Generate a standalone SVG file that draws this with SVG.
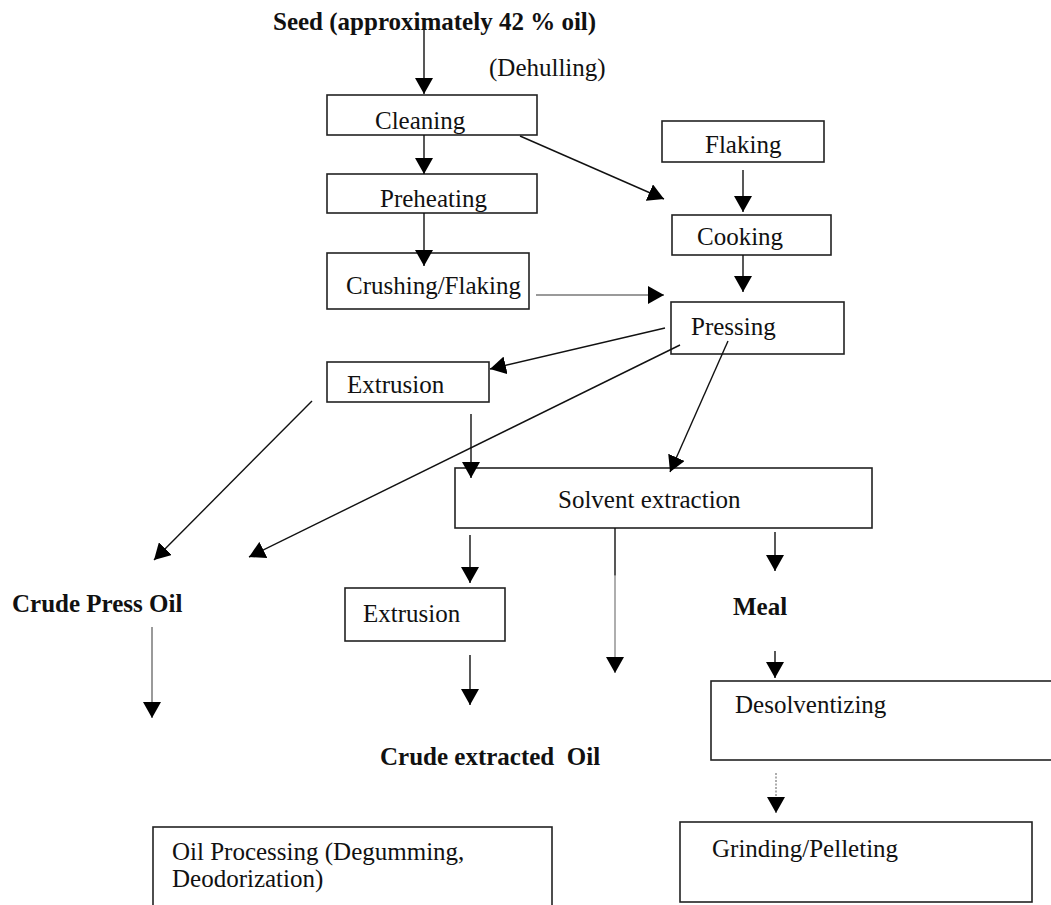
<svg xmlns="http://www.w3.org/2000/svg" width="1051" height="905" viewBox="0 0 1051 905">
<defs>
<marker id="ah" markerUnits="userSpaceOnUse" markerWidth="17" markerHeight="18" refX="16" refY="9" orient="auto" viewBox="0 0 17 18">
<path d="M0,0 L16,9 L0,18 z" fill="#000"/>
</marker>
</defs>
<style>
.box{fill:#fff;stroke:#222;stroke-width:1.6}
.t{font-family:"Liberation Serif","Times New Roman",serif;font-size:25px;fill:#111}
.b{font-weight:bold}
.c{stroke:#111;stroke-width:1.4;fill:none}
.g{stroke:#9a9a9a;stroke-width:2;fill:none}
.d{stroke:#777;stroke-width:1.2;stroke-dasharray:2 1.5;fill:none}
</style>
<rect width="1051" height="905" fill="#fff"/>

<g id="labels">
<text class="t b" x="273" y="30">Seed (approximately 42 % oil)</text>
<text class="t" x="489" y="76">(Dehulling)</text>
<text class="t b" x="12" y="612">Crude Press Oil</text>
<text class="t b" x="733" y="615">Meal</text>
<text class="t b" x="380" y="765" xml:space="preserve">Crude extracted  Oil</text>
</g>

<g id="cleaning"><rect class="box" x="327" y="95" width="210" height="40"/><text class="t" x="375" y="129">Cleaning</text></g>
<g id="preheating"><rect class="box" x="327" y="174" width="210" height="39"/><text class="t" x="380" y="207">Preheating</text></g>
<g id="crushing"><rect class="box" x="327" y="253" width="202" height="56"/><text class="t" x="346" y="294">Crushing/Flaking</text></g>
<g id="flaking"><rect class="box" x="662" y="121" width="162" height="41"/><text class="t" x="705" y="153">Flaking</text></g>
<g id="cooking"><rect class="box" x="672" y="215" width="159" height="40"/><text class="t" x="697" y="245">Cooking</text></g>
<g id="pressing"><rect class="box" x="671" y="302" width="173" height="52"/><text class="t" x="691" y="335">Pressing</text></g>
<g id="extrusion1"><rect class="box" x="327" y="362" width="162" height="40"/><text class="t" x="347" y="393">Extrusion</text></g>
<g id="solvent"><rect class="box" x="455" y="468" width="417" height="60"/><text class="t" x="558" y="508">Solvent extraction</text></g>
<g id="extrusion2"><rect class="box" x="345" y="588" width="160" height="53"/><text class="t" x="363" y="622">Extrusion</text></g>
<g id="desolventizing"><rect class="box" x="711" y="681" width="350" height="79"/><text class="t" x="735" y="713">Desolventizing</text></g>
<g id="grinding"><rect class="box" x="680" y="822" width="352" height="80"/><text class="t" x="712" y="857">Grinding/Pelleting</text></g>
<g id="oilprocessing"><rect class="box" x="153" y="827" width="399" height="90"/><text class="t" x="172" y="860">Oil Processing (Degumming,</text><text class="t" x="172" y="887">Deodorization)</text></g>

<g id="connectors">
<line class="c" x1="424" y1="26" x2="424" y2="94" marker-end="url(#ah)"/>
<line class="c" x1="424" y1="135" x2="424" y2="174" marker-end="url(#ah)"/>
<line class="c" x1="424" y1="213" x2="424" y2="266" marker-end="url(#ah)"/>
<line class="c" x1="520" y1="136" x2="664" y2="199" marker-end="url(#ah)"/>
<line class="c" x1="743" y1="170" x2="743" y2="212" marker-end="url(#ah)"/>
<line class="c" x1="743" y1="255" x2="743" y2="292" marker-end="url(#ah)"/>
<line class="g" x1="536" y1="295" x2="664" y2="295" marker-end="url(#ah)"/>
<line class="c" x1="665" y1="328" x2="490" y2="369" marker-end="url(#ah)"/>
<line class="c" x1="680" y1="345" x2="249" y2="557" marker-end="url(#ah)"/>
<line class="c" x1="728" y1="341" x2="670" y2="472" marker-end="url(#ah)"/>
<line class="c" x1="312" y1="401" x2="154" y2="560" marker-end="url(#ah)"/>
<line class="c" x1="471" y1="414" x2="471" y2="478" marker-end="url(#ah)"/>
<line class="c" x1="470" y1="535" x2="470" y2="583" marker-end="url(#ah)"/>
<line class="c" x1="615" y1="528" x2="615" y2="576"/>
<line class="g" x1="615" y1="575" x2="615" y2="673" style="stroke-width:1.6" marker-end="url(#ah)"/>
<line class="c" x1="775" y1="532" x2="775" y2="571" marker-end="url(#ah)"/>
<line class="c" x1="470" y1="655" x2="470" y2="705" marker-end="url(#ah)"/>
<line class="c" x1="775" y1="651" x2="775" y2="678" marker-end="url(#ah)"/>
<line class="d" x1="776" y1="773" x2="776" y2="813" marker-end="url(#ah)"/>
<line class="g" x1="152" y1="627" x2="152" y2="718" marker-end="url(#ah)"/>
</g>
</svg>
